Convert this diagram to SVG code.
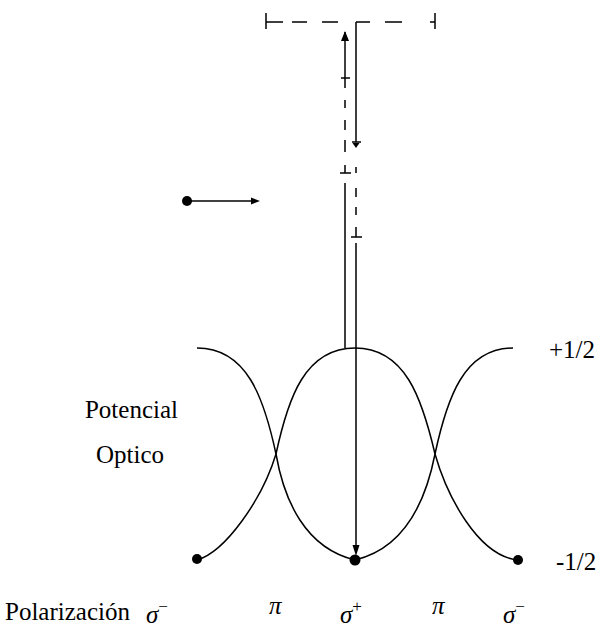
<svg xmlns="http://www.w3.org/2000/svg" width="603" height="629" viewBox="0 0 603 629">
<style>
.ln{stroke:#000;stroke-width:1.5;fill:none}
.cv{stroke:#000;stroke-width:1.5;fill:none;stroke-linejoin:round}
.dash{stroke:#000;stroke-width:1.5;fill:none}
.txt{font-family:"Liberation Serif","DejaVu Serif",serif;font-size:25px;fill:#000}
.math{font-family:"Liberation Serif","DejaVu Serif",serif;font-size:25px;font-style:italic;fill:#000}
.sup{font-size:17px;font-style:normal}
.dot{fill:#000}
</style>
<defs>
<marker id="ah" markerWidth="10" markerHeight="8" refX="9" refY="4" orient="auto" markerUnits="userSpaceOnUse">
<path d="M0,0 L10,4 L0,8 Z" fill="#000"/>
</marker>
</defs>
<rect width="603" height="629" fill="#fff"/>
<g id="curves">
<path id="curveA" class="cv" d="M197,348 C247,348 264,398 276,454 C284,500 305,548 355,560 C405,548 426,500 435,454 C447,398 464,348 513,348"/>
<path id="curveB" class="cv" d="M197,560 C225,552 262,500 276,454 C288,398 305,348 355,348 C405,348 422,398 435,454 C447,496 478,556 518,560"/>
</g>
<g id="dots">
<circle id="dotL" class="dot" cx="197" cy="559" r="5"/>
<circle id="dotC" class="dot" cx="355" cy="560" r="5.5"/>
<circle id="dotR" class="dot" cx="518" cy="560" r="5"/>
</g>
<g id="topbar">
<path class="dash" d="M266,13 V29 M266,22 H283 M292,22 H307 M322,22 H338 M356,22 H370 M385,22 H402 M430,22 H435 M435,13 V29"/>
</g>
<g id="connectors">
<path class="ln" d="M345,78 V32" marker-end="url(#ah)"/>
<path class="ln" d="M341,78 H350 M345,78 V88 M345,100 V108 M345,120 V130 M345,140 V152 M345,165 V173 M340,173 H351 M345,183 V348"/>
<path class="ln" d="M356,22 V142 M352,142 H361"/>
<path d="M352.5,143 L359.5,143 L356,148 Z" fill="#000"/>
<path class="ln" d="M356,167 V173 M356,188 V197 M356,207 V215 M356,227 V237 M351,237 H362 M356,243 V546"/>
<path d="M352.5,545 L359.5,545 L356,556 Z" fill="#000"/>
<circle class="dot" cx="187" cy="201" r="5"/>
<path class="ln" d="M187,201 H252"/>
<path d="M251,197.5 L260,201 L251,204.5 Z" fill="#000"/>
</g>
<g id="labels">
<text class="txt" x="178" y="418" text-anchor="end">Potencial</text>
<text class="txt" x="164" y="463" text-anchor="end">Optico</text>
<text class="txt" x="549" y="358">+1/2</text>
<text class="txt" x="556" y="570">-1/2</text>
<text class="txt" x="5" y="620">Polarización</text>
<text class="math" x="146" y="623">σ<tspan class="sup" dy="-11">−</tspan></text>
<text class="math" x="269" y="614">π</text>
<text class="math" x="340" y="623">σ<tspan class="sup" dy="-11">+</tspan></text>
<text class="math" x="432" y="614">π</text>
<text class="math" x="503" y="623">σ<tspan class="sup" dy="-11">−</tspan></text>
</g>
</svg>
